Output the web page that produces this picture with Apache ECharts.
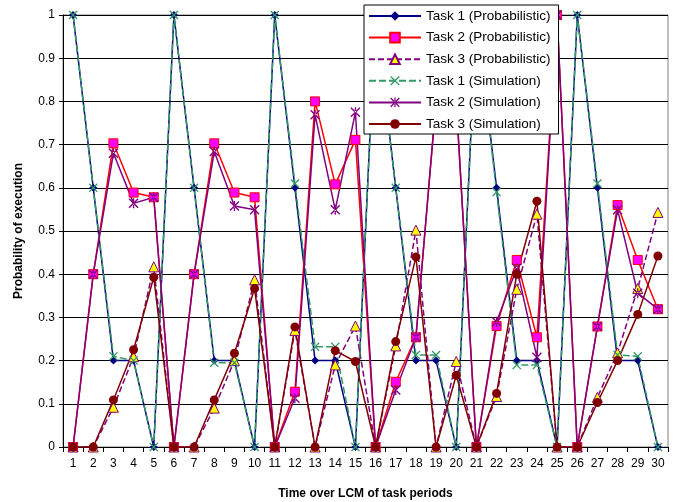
<!DOCTYPE html>
<html>
<head>
<meta charset="utf-8">
<script src="https://cdn.jsdelivr.net/npm/echarts@6/dist/echarts.min.js"></script>
<style>
  html, body { margin: 0; padding: 0; background: #fff; }
  #chart { width: 684px; height: 502px; }
</style>
</head>
<body>
<div id="chart"></div>
<script>
// time slots (x categories)
const slots = [];
for (let i = 1; i <= 30; i++) slots.push(String(i));

// values
const task1Prob = [1, 0.6, 0.2, 0.2, 0, 1, 0.6, 0.2, 0.2, 0, 1, 0.6, 0.2, 0.2, 0, 1, 0.6, 0.2, 0.2, 0, 1, 0.6, 0.2, 0.2, 0, 1, 0.6, 0.2, 0.2, 0];
const task2Prob = [0, 0.4, 0.703, 0.589, 0.578, 0, 0.4, 0.703, 0.589, 0.578, 0, 0.128, 0.8, 0.608, 0.711, 0, 0.151, 0.254, 0.8, 0.8, 0, 0.28, 0.433, 0.254, 1, 0, 0.279, 0.56, 0.433, 0.319];
const task3Prob = [0, 0, 0.092, 0.209, 0.417, 0, 0, 0.09, 0.2, 0.387, 0, 0.27, 0, 0.19, 0.28, 0, 0.234, 0.502, 0, 0.198, 0, 0.117, 0.365, 0.539, 0, 0, 0.115, 0.218, 0.367, 0.543];
const task1Sim = [1, 0.6, 0.21, 0.2, 0, 1, 0.6, 0.195, 0.195, 0, 1, 0.61, 0.232, 0.232, 0, 1, 0.6, 0.213, 0.213, 0, 1, 0.59, 0.19, 0.19, 0, 1, 0.61, 0.213, 0.21, 0];
const task2Sim = [0, 0.4, 0.68, 0.564, 0.578, 0, 0.4, 0.684, 0.558, 0.549, 0, 0.113, 0.769, 0.549, 0.775, 0, 0.132, 0.254, 0.8, 0.8, 0, 0.29, 0.414, 0.208, 1, 0, 0.279, 0.549, 0.356, 0.319];
const task3Sim = [0, 0, 0.109, 0.225, 0.393, 0, 0, 0.109, 0.217, 0.367, 0, 0.278, 0, 0.223, 0.198, 0, 0.244, 0.44, 0, 0.166, 0, 0.124, 0.4, 0.569, 0, 0, 0.103, 0.2, 0.307, 0.442];

const crossPath = 'path://M0,1L1,0L5,4L9,0L10,1L6,5L10,9L9,10L5,6L1,10L0,9L4,5Z';
const starPath = 'path://M0,1L1,0L5,4L9,0L10,1L6,5L10,9L9,10L5,6L1,10L0,9L4,5Z M4.35,0L4.35,10L5.65,10L5.65,0Z';

function makeSeries(name, data, color, lineType, symbol, size, fill, border) {
  return {
    name: name,
    type: 'line',
    data: data,
    symbol: symbol,
    symbolSize: size,
    showAllSymbol: true,
    lineStyle: { color: color, width: 1.5, type: lineType },
    itemStyle: { color: fill, borderColor: border || fill, borderWidth: border ? 1 : 0 },
    emphasis: { disabled: true }
  };
}

const chart = echarts.init(document.getElementById('chart'));
const option = {
  animation: false,
  backgroundColor: '#fff',
  textStyle: { fontFamily: 'Liberation Sans, Arial, sans-serif' },
  grid: {
    left: 63, right: 16, top: 15, bottom: 55,
    outerBoundsMode: 'none',
    containLabel: false,
    show: true, borderColor: '#808080', borderWidth: 1
  },
  legend: {
    orient: 'vertical',
    left: 364,
    top: 5,
    backgroundColor: '#fff',
    borderColor: '#000',
    borderWidth: 1,
    borderRadius: 0,
    padding: [4, 8, 3, 4],
    itemWidth: 52,
    itemHeight: 12,
    itemGap: 7.6,
    textStyle: { fontSize: 13.5, color: '#000', fontFamily: 'Liberation Sans, Arial, sans-serif' },
    data: ['Task 1 (Probabilistic)', 'Task 2 (Probabilistic)', 'Task 3 (Probabilistic)',
           'Task 1 (Simulation)', 'Task 2 (Simulation)', 'Task 3 (Simulation)']
  },
  xAxis: {
    type: 'category',
    data: slots,
    boundaryGap: true,
    name: 'Time over LCM of task periods',
    nameLocation: 'middle',
    nameGap: 41,
    nameTextStyle: { fontSize: 12, fontWeight: 'bold', color: '#000' },
    axisLine: { lineStyle: { color: '#000', width: 1 } },
    axisTick: { show: true, length: 5, lineStyle: { color: '#000' } },
    axisLabel: { fontSize: 12, color: '#000', margin: 11 },
    splitLine: { show: false }
  },
  yAxis: {
    type: 'value',
    min: 0,
    max: 1,
    interval: 0.1,
    name: 'Probability of execution',
    nameLocation: 'middle',
    nameGap: 38,
    nameTextStyle: { fontSize: 12, fontWeight: 'bold', color: '#000' },
    axisLine: { show: true, lineStyle: { color: '#000', width: 1 } },
    axisTick: { show: true, length: 4, lineStyle: { color: '#000' } },
    axisLabel: {
      fontSize: 12, color: '#000', margin: 8,
      formatter: function (v) { return String(parseFloat(v.toFixed(1))); }
    },
    splitLine: { show: true, lineStyle: { color: '#000', width: 1 } }
  },
  series: [
    makeSeries('Task 1 (Probabilistic)', task1Prob, '#000080', 'solid', 'diamond', 8, '#000080'),
    makeSeries('Task 2 (Probabilistic)', task2Prob, '#ff0000', 'solid', 'rect', 9, '#ff00ff', '#ff0000'),
    makeSeries('Task 3 (Probabilistic)', task3Prob, '#800080', [6, 3], 'triangle', 10, '#ffff00', '#800080'),
    makeSeries('Task 1 (Simulation)', task1Sim, '#339966', [7, 3], crossPath, 9, '#339966'),
    makeSeries('Task 2 (Simulation)', task2Sim, '#800080', 'solid', starPath, 10, '#800080'),
    makeSeries('Task 3 (Simulation)', task3Sim, '#800000', 'solid', 'circle', 9, '#800000')
  ]
};
chart.setOption(option);
</script>
</body>
</html>
